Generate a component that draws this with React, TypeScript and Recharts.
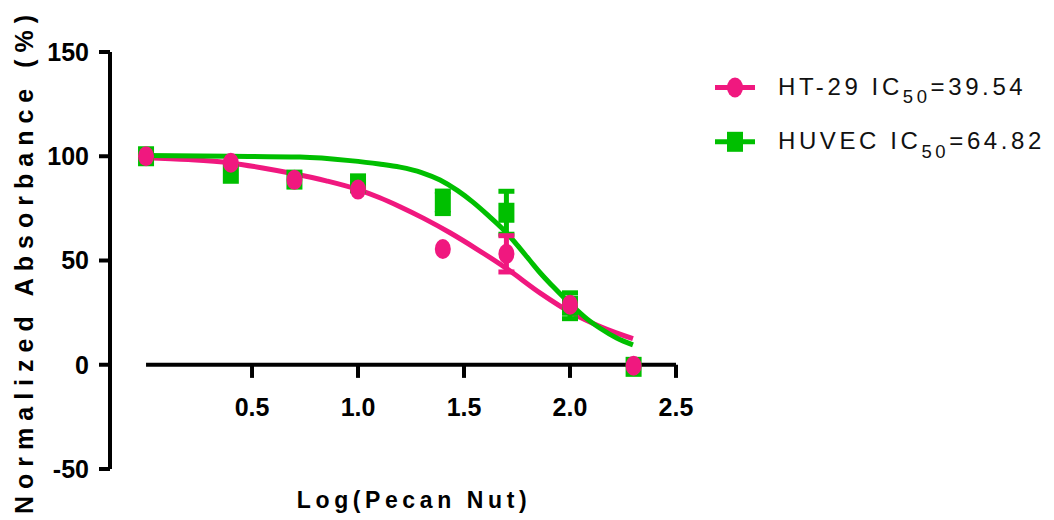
import React from 'react';
import {
  ComposedChart,
  Line,
  Scatter,
  XAxis,
  YAxis,
  ErrorBar,
  ReferenceLine,
  Legend,
  Label,
} from 'recharts';

const PINK = '#F0187F';
const GREEN = '#00BF00';
const FONT = '"Liberation Sans", Arial, Helvetica, sans-serif';

// measured doses (log scale)
const doseLog = [0, 0.4, 0.7, 1.0, 1.4, 1.7, 2.0, 2.3];
// HT-29 means and SD
const ht29Mean = [100, 96.9, 88.7, 84, 55.5, 53.2, 28.8, -0.5];
const ht29Err = [0, 0, 0, 0, 0, 8.7, 0, 0];
// HUVEC means and SD
const huvecMean = [100, 91.6, 88.8, 87, 77.9, 72.9, 28.3, -1];
const huvecErr = [0, 0, 0, 0, 5.4, 10.3, 6.2, 0];

// fitted curves
const ht29FitX = [0, 0.2, 0.396, 0.55, 0.698, 0.85, 1.0, 1.1, 1.198, 1.31, 1.434, 1.56, 1.703, 1.858, 2.014, 2.142, 2.297];
const ht29FitY = [99.3, 98.4, 96.8, 94.4, 91.6, 88.2, 84, 80.2, 75.8, 70.2, 63.3, 55.5, 46, 34.5, 24.5, 18.3, 12.5];
const huvecFitX = [0, 0.396, 0.726, 0.962, 1.1, 1.198, 1.3, 1.387, 1.47, 1.542, 1.61, 1.684, 1.75, 1.811, 1.86, 1.92, 2.014, 2.08, 2.142, 2.22, 2.297];
const huvecFitY = [100.3, 100, 99.6, 97.9, 96.3, 94.8, 92.2, 88.6, 83.5, 78, 72, 65, 57.5, 50, 44, 37.5, 28, 22, 17.5, 12.8, 9.5];

const seriesNames = ['HT-29', 'HUVEC'];
const ic50Values = ['39.54', '64.82'];

const xTicks = [0.5, 1.0, 1.5, 2.0, 2.5];
const xTickLabels = ['0.5', '1.0', '1.5', '2.0', '2.5'];
const yTicks = [-50, 0, 50, 100, 150];

const xTitle = 'Log(Pecan Nut)';
const yTitle = 'Normalized Absorbance (%)';

const ht29Points = doseLog.map((x, i) => ({ x, y: ht29Mean[i], err: ht29Err[i] }));
const huvecPoints = doseLog.map((x, i) => ({ x, y: huvecMean[i], err: huvecErr[i] }));
const ht29Fit = ht29FitX.map((x, i) => ({ x, y: ht29FitY[i] }));
const huvecFit = huvecFitX.map((x, i) => ({ x, y: huvecFitY[i] }));

const CircleShape = (props: any) => {
  const { cx, cy } = props;
  if (cx == null || cy == null) return null;
  return <ellipse cx={cx} cy={cy} rx={8} ry={10} fill={PINK} />;
};

const SquareShape = (props: any) => {
  const { cx, cy } = props;
  if (cx == null || cy == null) return null;
  return <rect x={cx - 8} y={cy - 10} width={16} height={20} fill={GREEN} />;
};

const XTick = (props: any) => {
  const { x, y, payload } = props;
  const idx = xTicks.indexOf(payload.value);
  const label = idx >= 0 ? xTickLabels[idx] : String(payload.value);
  return (
    <text
      x={x}
      y={y - 53}
      textAnchor="middle"
      fontSize={25}
      fontWeight="bold"
      fontFamily={FONT}
      fill="#000"
    >
      {label}
    </text>
  );
};

const XTitle = () => (
  <text
    x={414}
    y={508}
    textAnchor="middle"
    fontSize={23}
    fontWeight="bold"
    fontFamily={FONT}
    letterSpacing={4.6}
    fill="#000"
  >
    {xTitle}
  </text>
);

const YTitle = () => (
  <text
    x={33}
    y={261}
    textAnchor="middle"
    transform="rotate(-90 33 261)"
    fontSize={25}
    fontWeight="bold"
    fontFamily={FONT}
    letterSpacing={7}
    fill="#000"
  >
    {yTitle}
  </text>
);

const renderLegend = () => (
  <svg width={349} height={120} style={{ display: 'block' }}>
    {seriesNames.map((name, i) => {
      const cy = 27.5 + i * 54.3;
      const color = i === 0 ? PINK : GREEN;
      return (
        <g key={name}>
          <line x1={10} y1={cy} x2={50} y2={cy} stroke={color} strokeWidth={5} />
          {i === 0 ? (
            <ellipse cx={30} cy={cy} rx={8} ry={10} fill={color} />
          ) : (
            <rect x={22} y={cy - 10} width={16} height={20} fill={color} />
          )}
          <text
            x={73}
            y={cy + 7.5}
            fontSize={24}
            fontFamily={FONT}
            letterSpacing={3.6}
            fill="#111"
          >
            {name + ' IC'}
            <tspan fontSize={18.5} dy={8.3}>
              50
            </tspan>
            <tspan fontSize={24} dy={-8.3}>
              {'=' + ic50Values[i]}
            </tspan>
          </text>
        </g>
      );
    })}
  </svg>
);

export default function App() {
  return (
    <div style={{ position: 'absolute', left: 0, top: 0, width: 1054, height: 520, background: '#fff' }}>
      <ComposedChart
        width={1054}
        height={520}
        margin={{ top: 52, right: 378, bottom: 21, left: 50 }}
      >
        <XAxis
          dataKey="x"
          type="number"
          domain={[-0.17, 2.5]}
          ticks={xTicks}
          axisLine={false}
          tickLine={false}
          tickSize={0}
          tickMargin={0}
          height={30}
          tick={<XTick />}
          interval={0}
        >
          <Label content={<XTitle />} />
        </XAxis>
        <YAxis
          type="number"
          domain={[-50, 150]}
          ticks={yTicks}
          width={60}
          axisLine={{ stroke: '#000', strokeWidth: 4 }}
          tickLine={{ stroke: '#000', strokeWidth: 4 }}
          tickSize={11}
          tickMargin={10}
          interval={0}
          tick={{ fontSize: 25, fontWeight: 'bold', fill: '#000', fontFamily: FONT }}
        >
          <Label content={<YTitle />} />
        </YAxis>
        <ReferenceLine
          segment={[
            { x: 0, y: 0 },
            { x: 2.5, y: 0 },
          ]}
          stroke="#000"
          strokeWidth={4}
        />
        {xTicks.map((t) => (
          <ReferenceLine
            key={'t' + t}
            segment={[
              { x: t, y: 0 },
              { x: t, y: -6.3 },
            ]}
            stroke="#000"
            strokeWidth={4}
          />
        ))}
        <Line
          data={ht29Fit}
          dataKey="y"
          type="monotone"
          stroke={PINK}
          strokeWidth={5}
          dot={false}
          activeDot={false}
          isAnimationActive={false}
          legendType="none"
        />
        <Line
          data={huvecFit}
          dataKey="y"
          type="monotone"
          stroke={GREEN}
          strokeWidth={5}
          dot={false}
          activeDot={false}
          isAnimationActive={false}
          legendType="none"
        />
        <Scatter data={huvecPoints} dataKey="y" shape={<SquareShape />} isAnimationActive={false}>
          <ErrorBar dataKey="err" direction="y" width={8} strokeWidth={5} stroke={GREEN} />
        </Scatter>
        <Scatter data={ht29Points} dataKey="y" shape={<CircleShape />} isAnimationActive={false}>
          <ErrorBar dataKey="err" direction="y" width={8} strokeWidth={5} stroke={PINK} />
        </Scatter>
        <Legend
          content={renderLegend}
          layout="vertical"
          align="center"
          verticalAlign="middle"
          wrapperStyle={{ position: 'absolute', left: 705, top: 60, width: 349, height: 120 }}
        />
      </ComposedChart>
    </div>
  );
}
